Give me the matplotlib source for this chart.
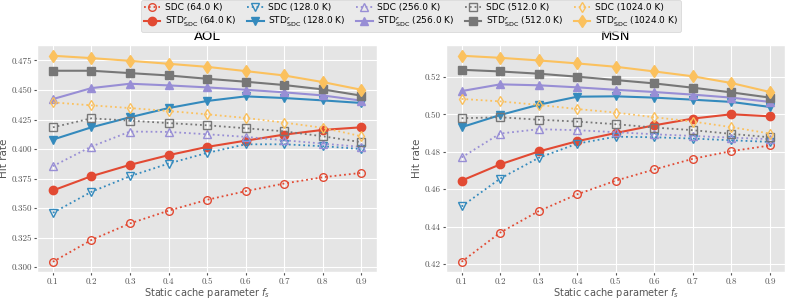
import matplotlib
matplotlib.use("Agg")
import matplotlib.pyplot as plt

plt.style.use("ggplot")

fs = [0.1, 0.2, 0.3, 0.4, 0.5, 0.6, 0.7, 0.8, 0.9]
sizes = ["64.0 K", "128.0 K", "256.0 K", "512.0 K", "1024.0 K"]
colors = ["#E24A33", "#348ABD", "#988ED5", "#777777", "#FBC15E"]
markers = ["o", "v", "^", "s", "d"]

# AOL
aol_sdc = [
    [0.3045, 0.3230, 0.3370, 0.3478, 0.3570, 0.3643, 0.3708, 0.3761, 0.3798],
    [0.3460, 0.3638, 0.3770, 0.3877, 0.3967, 0.4040, 0.4040, 0.4024, 0.4000],
    [0.3855, 0.4021, 0.4148, 0.4145, 0.4125, 0.4103, 0.4074, 0.4046, 0.4018],
    [0.4184, 0.4260, 0.4240, 0.4220, 0.4201, 0.4176, 0.4150, 0.4108, 0.4058],
    [0.4395, 0.4370, 0.4347, 0.4322, 0.4294, 0.4263, 0.4224, 0.4180, 0.4108],
]
aol_std = [
    [0.3649, 0.3770, 0.3866, 0.3948, 0.4018, 0.4071, 0.4122, 0.4162, 0.4184],
    [0.4080, 0.4184, 0.4269, 0.4347, 0.4407, 0.4446, 0.4432, 0.4412, 0.4390],
    [0.4423, 0.4516, 0.4553, 0.4539, 0.4522, 0.4502, 0.4480, 0.4454, 0.4410],
    [0.4663, 0.4663, 0.4643, 0.4623, 0.4595, 0.4570, 0.4542, 0.4505, 0.4452],
    [0.4790, 0.4770, 0.4747, 0.4722, 0.4696, 0.4660, 0.4623, 0.4567, 0.4502],
]

# MSN
msn_sdc = [
    [0.4212, 0.4368, 0.4483, 0.4573, 0.4646, 0.4706, 0.4763, 0.4804, 0.4834],
    [0.4508, 0.4657, 0.4768, 0.4844, 0.4881, 0.4878, 0.4871, 0.4862, 0.4853],
    [0.4770, 0.4898, 0.4921, 0.4916, 0.4905, 0.4894, 0.4885, 0.4876, 0.4868],
    [0.4980, 0.4985, 0.4972, 0.4962, 0.4948, 0.4930, 0.4916, 0.4896, 0.4878],
    [0.5083, 0.5070, 0.5051, 0.5029, 0.5010, 0.4985, 0.4962, 0.4932, 0.4898],
]
msn_std = [
    [0.4646, 0.4733, 0.4802, 0.4857, 0.4901, 0.4942, 0.4978, 0.5001, 0.4990],
    [0.4932, 0.4997, 0.5052, 0.5095, 0.5097, 0.5090, 0.5079, 0.5067, 0.5040],
    [0.5125, 0.5161, 0.5156, 0.5145, 0.5132, 0.5120, 0.5106, 0.5090, 0.5067],
    [0.5239, 0.5230, 0.5218, 0.5202, 0.5184, 0.5166, 0.5143, 0.5118, 0.5090],
    [0.5314, 0.5303, 0.5289, 0.5273, 0.5255, 0.5230, 0.5204, 0.5168, 0.5120],
]

fig = plt.figure(figsize=(7.89, 2.99), dpi=100)
ax1 = fig.add_axes([0.0475, 0.09, 0.430, 0.758])
ax2 = fig.add_axes([0.5655, 0.09, 0.430, 0.758])


def draw(ax, sdc, std, title):
    handles = []
    for i in range(len(sizes)):
        h1, = ax.plot(fs, sdc[i], linestyle=":", marker=markers[i], color=colors[i],
                      markerfacecolor="none", markeredgewidth=1.0, markersize=5.5, lw=1.3,
                      label="SDC (%s)" % sizes[i])
        h2, = ax.plot(fs, std[i], linestyle="-", marker=markers[i], color=colors[i],
                      markersize=6, lw=1.5,
                      label=r"STD$^{r}_{\rm SDC}$ (%s)" % sizes[i])
        handles += [h1, h2]
    ax.set_title(title, fontsize=9.5, pad=4)
    ax.set_xlabel(r"Static cache parameter $f_s$", fontsize=7, labelpad=0, color="#555555")
    ax.set_ylabel("Hit rate", fontsize=7.5, labelpad=2, color="#555555")
    ax.set_xticks(fs)
    ax.tick_params(labelsize=6.5, colors="#555555", length=2.5, pad=1.5)
    for lab in ax.get_xticklabels():
        lab.set_fontfamily("cmr10")
    return handles


handles = draw(ax1, aol_sdc, aol_std, "AOL")
ax1.set_yticks([0.300, 0.325, 0.350, 0.375, 0.400, 0.425, 0.450, 0.475])
ax1.set_yticklabels(["%.3f" % v for v in ax1.get_yticks()], fontfamily="cmr10")
draw(ax2, msn_sdc, msn_std, "MSN")
ax2.set_yticks([0.42, 0.44, 0.46, 0.48, 0.50, 0.52])
ax2.set_yticklabels(["%.2f" % v for v in ax2.get_yticks()], fontfamily="cmr10")

fig.legend(handles=handles, loc="upper center", bbox_to_anchor=(0.521, 1.005), ncol=5,
           fontsize=6.5, frameon=True, facecolor="#E5E5E5", edgecolor="#CCCCCC",
           handlelength=1.8, columnspacing=1.2, borderpad=0.3, labelspacing=0.3,
           handletextpad=0.5, borderaxespad=0.2)

fig.savefig("out.png", dpi=100)
